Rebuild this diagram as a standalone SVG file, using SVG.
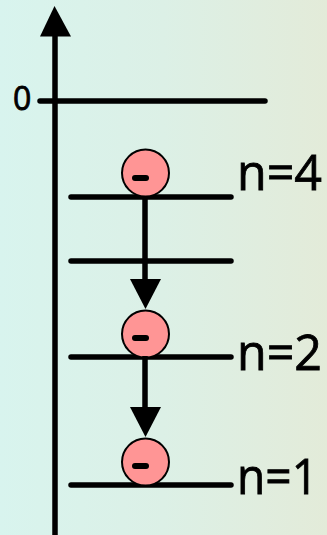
<svg xmlns="http://www.w3.org/2000/svg" width="327" height="535" viewBox="0 0 327 535">
<style>
.lvl{stroke:#000;stroke-width:5.500;stroke-linecap:round;fill:none}
.ln{stroke:#000;stroke-width:5.500;fill:none}
.e{fill:#ff9595;stroke:#000;stroke-width:2}
.m{stroke:#000;stroke-width:6;stroke-linecap:round}
.t{font-family:"Open Sans","DejaVu Sans",sans-serif;font-size:50px;fill:#000;stroke:#000;stroke-width:0.800}
</style>
<defs><linearGradient id="bg" x1="0" y1="0" x2="1" y2="0"><stop offset="0" stop-color="#d8f4ee"/><stop offset="0.5" stop-color="#dcf0e6"/><stop offset="1" stop-color="#e3ebd9"/></linearGradient></defs>
<rect width="327" height="535" fill="url(#bg)"/>
<g id="axis"><path class="ln" d="M55 35V535"/><polygon points="54.500,6 40,36.500 71,36.500"/></g>
<g id="level-0"><path class="lvl" d="M40 101H265"/><text x="13" y="110" style="font-family:'Open Sans','DejaVu Sans',sans-serif;font-size:32px;stroke:#000;stroke-width:0.800">0</text></g>
<g id="level-4"><path class="lvl" d="M71 197H231"/><text class="t" x="237" y="190" textLength="85" lengthAdjust="spacingAndGlyphs">n=4</text></g>
<g id="level-3"><path class="lvl" d="M71 261H231"/></g>
<g id="level-2"><path class="lvl" d="M71 357H231"/><text class="t" x="237" y="370" textLength="85" lengthAdjust="spacingAndGlyphs">n=2</text></g>
<g id="level-1"><path class="lvl" d="M71 485H231"/><text class="t" x="237" y="494" textLength="81" lengthAdjust="spacingAndGlyphs">n=1</text></g>
<g id="electron-4"><circle class="e" cx="145.500" cy="173" r="23.500"/><path class="m" d="M135 178H146"/></g>
<g id="electron-2"><circle class="e" cx="145.500" cy="334" r="23.500"/><path class="m" d="M135 338H146"/></g>
<g id="electron-1"><circle class="e" cx="145.500" cy="462" r="23.500"/><path class="m" d="M135 466H146"/></g>
<g id="connectors">
<path class="ln" d="M145 196V282"/><polygon points="130,279 161,279 145.500,309"/>
<path class="ln" d="M145 356V410"/><polygon points="130,407 161,407 145.500,437"/>
</g>
</svg>
